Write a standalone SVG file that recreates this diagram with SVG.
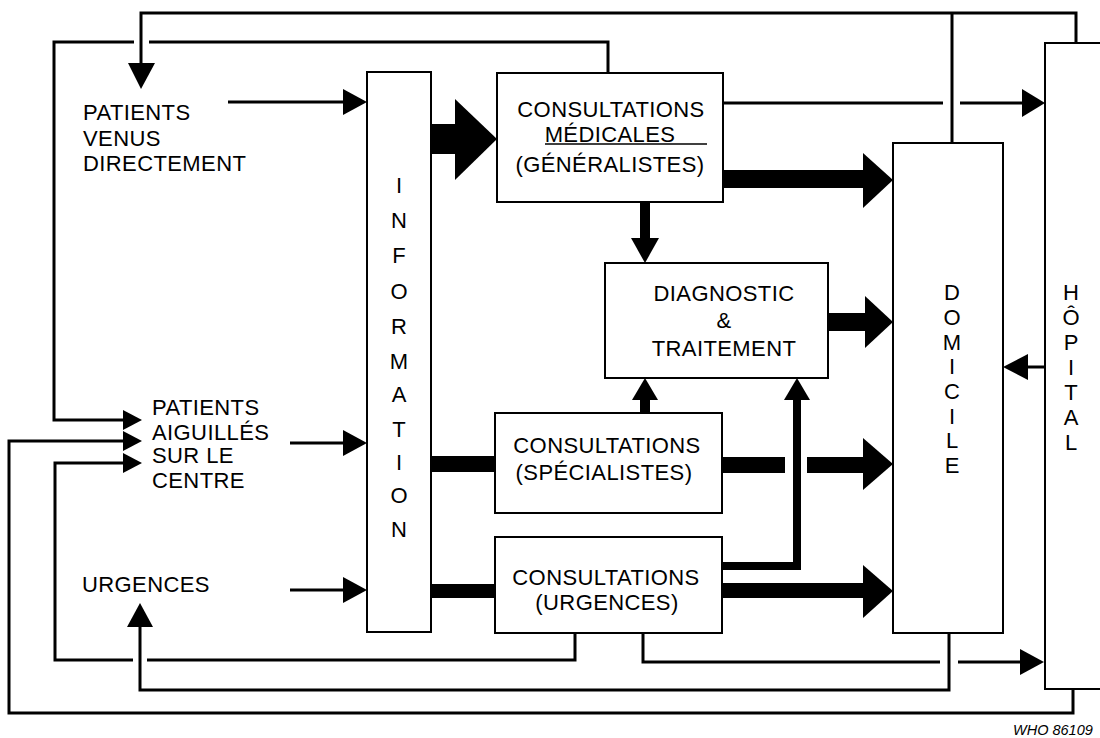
<svg xmlns="http://www.w3.org/2000/svg" width="1100" height="738" viewBox="0 0 1100 738">
<style>
.box{fill:#fff;stroke:#000;stroke-width:2}
.ln{fill:none;stroke:#000;stroke-width:3}
.ah{fill:#000;stroke:none}
.t{font-family:"Liberation Sans",Arial,sans-serif;font-size:22px;fill:#000;letter-spacing:0.4px}
.c{text-anchor:middle}
.v{font-family:"Liberation Sans",Arial,sans-serif;font-size:22px;fill:#000;text-anchor:middle}
.who{font-family:"Liberation Sans",Arial,sans-serif;font-size:14.5px;font-style:italic;fill:#000}
</style>
<rect width="1100" height="738" fill="#fff"/>
<g id="connectors">
<path class="ln" d="M1076,43 V13 H141 V64"/>
<polygon class="ah" points="128,63 155,63 141,89"/>
<path class="ln" d="M952,143 V13"/>
<path class="ln" d="M608,73 V42 H149"/>
<path class="ln" d="M134,42 H54 V420 H124"/>
<polygon class="ah" points="123,410 123,430 142,420"/>
<path class="ln" d="M228,102 H344"/>
<polygon class="ah" points="343,89 343,115 367,102"/>
<rect class="ah" x="431" y="124" width="25" height="30"/>
<polygon class="ah" points="455,99 455,180 497,139"/>
<path class="ln" d="M723,103 H943 M960,103 H1023"/>
<polygon class="ah" points="1022,89 1022,117 1045,103"/>
<rect class="ah" x="723" y="170" width="141" height="18"/>
<polygon class="ah" points="863,153 863,208 893,180"/>
<rect class="ah" x="640" y="202" width="10" height="37"/>
<polygon class="ah" points="631,238 659,238 645,263"/>
<rect class="ah" x="828" y="313" width="38" height="18"/>
<polygon class="ah" points="865,296 865,348 893,322"/>
<rect class="ah" x="640" y="399" width="10" height="14"/>
<polygon class="ah" points="632,400 658,400 645,378"/>
<path fill="none" stroke="#000" stroke-width="8" d="M722,566 H797 V399"/>
<polygon class="ah" points="784,400 810,400 797,378"/>
<path class="ln" d="M1045,367 H1027"/>
<polygon class="ah" points="1028,354 1028,380 1003,367"/>
<path class="ln" d="M290,443 H344"/>
<polygon class="ah" points="343,430 343,456 367,443"/>
<rect class="ah" x="431" y="456" width="64" height="16"/>
<rect class="ah" x="722" y="457" width="63" height="16"/>
<rect class="ah" x="807" y="457" width="57" height="16"/>
<polygon class="ah" points="863,438 863,490 893,464"/>
<path class="ln" d="M290,590 H344"/>
<polygon class="ah" points="343,577 343,603 367,590"/>
<rect class="ah" x="431" y="584" width="64" height="14"/>
<rect class="ah" x="722" y="583" width="142" height="15"/>
<polygon class="ah" points="863,565 863,618 893,591"/>
<path class="ln" d="M575,633 V660 H147 M133,660 H55 V463 H124"/>
<polygon class="ah" points="123,453 123,473 142,463"/>
<path class="ln" d="M643,633 V662 H940 M958,662 H1021"/>
<polygon class="ah" points="1020,649 1020,675 1044,662"/>
<path class="ln" d="M949,633 V690 H140 V626"/>
<polygon class="ah" points="127,627 153,627 140,603"/>
<path class="ln" d="M1073,689 V713 H9 V441 H124"/>
<polygon class="ah" points="123,431 123,451 142,441"/>
</g>
<g id="patients-venus">
<text class="t" x="83" y="120">PATIENTS</text>
<text class="t" x="83" y="146">VENUS</text>
<text class="t" x="83" y="171">DIRECTEMENT</text>
</g>
<g id="patients-aiguilles">
<text class="t" x="152" y="415">PATIENTS</text>
<text class="t" x="152" y="440">AIGUILLÉS</text>
<text class="t" x="152" y="463">SUR LE</text>
<text class="t" x="152" y="488">CENTRE</text>
</g>
<g id="urgences">
<text class="t" x="82" y="592">URGENCES</text>
</g>
<g id="information">
<rect class="box" x="367" y="72" width="64" height="560"/>
<text class="v" x="399" y="193">I</text>
<text class="v" x="399" y="228">N</text>
<text class="v" x="399" y="263">F</text>
<text class="v" x="399" y="299">O</text>
<text class="v" x="399" y="334">R</text>
<text class="v" x="399" y="369">M</text>
<text class="v" x="399" y="402">A</text>
<text class="v" x="399" y="437">T</text>
<text class="v" x="399" y="470">I</text>
<text class="v" x="399" y="503">O</text>
<text class="v" x="399" y="537">N</text>
</g>
<g id="consultations-medicales">
<rect class="box" x="497" y="73" width="226" height="129"/>
<text class="t c" x="611" y="117">CONSULTATIONS</text>
<text class="t c" x="610" y="142">MÉDICALES</text>
<line x1="545" y1="144" x2="707" y2="144" stroke="#000" stroke-width="1.5"/>
<text class="t c" x="610" y="172">(GÉNÉRALISTES)</text>
</g>
<g id="diagnostic">
<rect class="box" x="605" y="263" width="223" height="115"/>
<text class="t c" x="724" y="301">DIAGNOSTIC</text>
<text class="t c" x="724" y="328">&amp;</text>
<text class="t c" x="724" y="356">TRAITEMENT</text>
</g>
<g id="consultations-specialistes">
<rect class="box" x="495" y="413" width="227" height="100"/>
<text class="t c" x="607" y="453">CONSULTATIONS</text>
<text class="t c" x="604" y="480">(SPÉCIALISTES)</text>
</g>
<g id="consultations-urgences">
<rect class="box" x="495" y="537" width="227" height="96"/>
<text class="t c" x="606" y="585">CONSULTATIONS</text>
<text class="t c" x="607" y="610">(URGENCES)</text>
</g>
<g id="domicile">
<rect class="box" x="893" y="143" width="110" height="490"/>
<text class="v" x="952" y="300">D</text>
<text class="v" x="952" y="325">O</text>
<text class="v" x="952" y="350">M</text>
<text class="v" x="952" y="374">I</text>
<text class="v" x="952" y="399">C</text>
<text class="v" x="952" y="424">I</text>
<text class="v" x="952" y="448">L</text>
<text class="v" x="952" y="473">E</text>
</g>
<g id="hopital">
<rect class="box" x="1045" y="43" width="80" height="646"/>
<text class="v" x="1071" y="300">H</text>
<text class="v" x="1071" y="325">Ô</text>
<text class="v" x="1071" y="350">P</text>
<text class="v" x="1071" y="375">I</text>
<text class="v" x="1071" y="400">T</text>
<text class="v" x="1071" y="425">A</text>
<text class="v" x="1071" y="450">L</text>
</g>
<text class="who" x="1013" y="735">WHO 86109</text>
</svg>
